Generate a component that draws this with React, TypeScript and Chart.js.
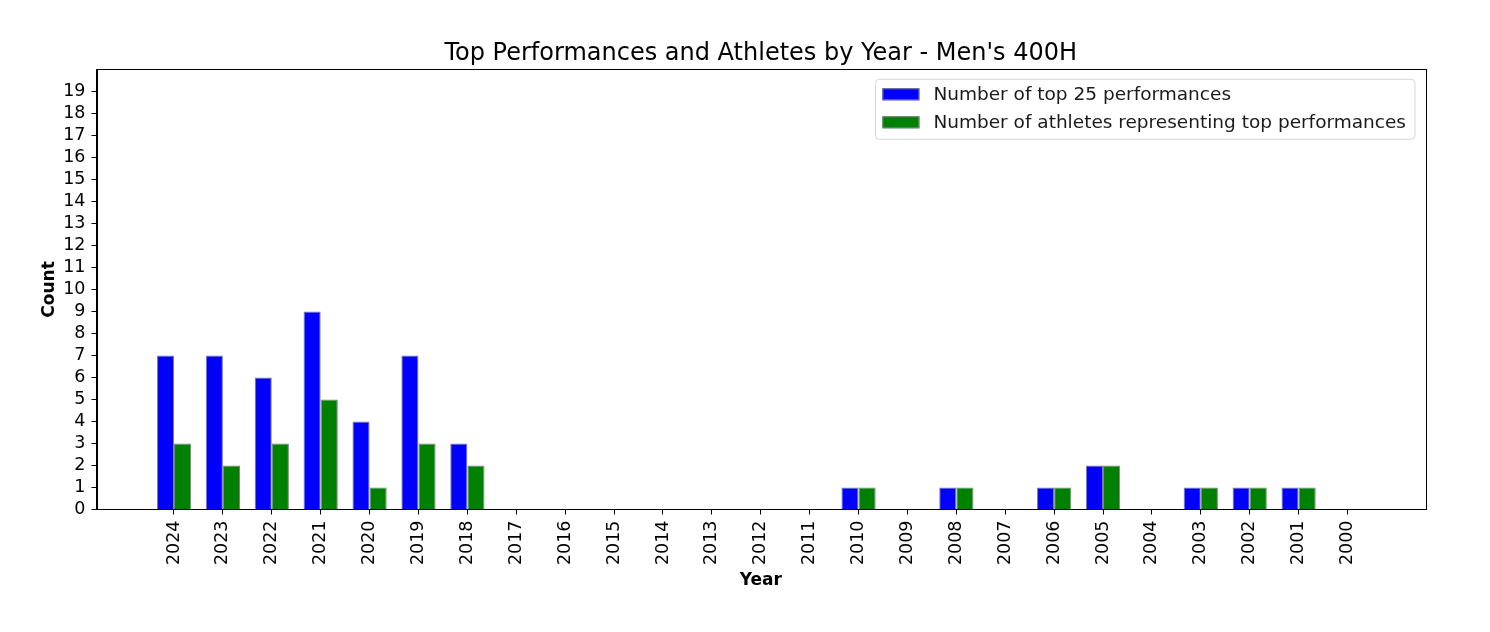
import React, { useEffect, useRef } from "react";
import { Chart, registerables } from "chart.js";

Chart.register(...registerables);

const years = [
  "2024", "2023", "2022", "2021", "2020", "2019", "2018", "2017", "2016", "2015",
  "2014", "2013", "2012", "2011", "2010", "2009", "2008", "2007", "2006", "2005",
  "2004", "2003", "2002", "2001", "2000",
];
const performances = [7, 7, 6, 9, 4, 7, 3, 0, 0, 0, 0, 0, 0, 0, 1, 0, 1, 0, 1, 2, 0, 1, 1, 1, 0];
const athletes = [3, 2, 3, 5, 1, 3, 2, 0, 0, 0, 0, 0, 0, 0, 1, 0, 1, 0, 1, 2, 0, 1, 1, 1, 0];
const yTicks = [0, 1, 2, 3, 4, 5, 6, 7, 8, 9, 10, 11, 12, 13, 14, 15, 16, 17, 18, 19];
const seriesLabels = ["Number of top 25 performances", "Number of athletes representing top performances"];
const seriesColors = ["#0000ff", "#008000"];
const chartTitle = "Top Performances and Athletes by Year - Men's 400H";

const FONT = '"DejaVu Sans", sans-serif';

const framePlugin = {
  id: "frame",
  afterDraw(chart: any) {
    const { ctx, chartArea: a } = chart;
    ctx.save();
    ctx.strokeStyle = "#000";
    ctx.lineWidth = 1;
    ctx.strokeRect(Math.round(a.left) + 0.5, Math.round(a.top) + 0.5, Math.round(a.right - a.left), Math.round(a.bottom - a.top));
    ctx.font = `24px ${FONT}`;
    ctx.fillStyle = "#000";
    ctx.textAlign = "center";
    ctx.textBaseline = "middle";
    ctx.fillText(chartTitle, (a.left + a.right) / 2, a.top - 16);
    ctx.restore();
  },
};

const legendPlugin = {
  id: "customLegend",
  afterDraw(chart: any) {
    const { ctx, chartArea: a } = chart;
    ctx.save();
    ctx.font = `18.5px ${FONT}`;
    const textW = Math.max(...seriesLabels.map((l) => ctx.measureText(l).width));
    const handleW = 37;
    const boxW = 7 + handleW + 14 + textW + 9;
    const boxH = 60;
    const right = a.right - 10;
    const left = right - boxW;
    const top = a.top + 10;
    ctx.beginPath();
    const r = 4;
    ctx.moveTo(left + r, top);
    ctx.lineTo(left + boxW - r, top);
    ctx.quadraticCurveTo(left + boxW, top, left + boxW, top + r);
    ctx.lineTo(left + boxW, top + boxH - r);
    ctx.quadraticCurveTo(left + boxW, top + boxH, left + boxW - r, top + boxH);
    ctx.lineTo(left + r, top + boxH);
    ctx.quadraticCurveTo(left, top + boxH, left, top + boxH - r);
    ctx.lineTo(left, top + r);
    ctx.quadraticCurveTo(left, top, left + r, top);
    ctx.closePath();
    ctx.fillStyle = "rgba(255,255,255,0.8)";
    ctx.fill();
    ctx.strokeStyle = "#d6d6d6";
    ctx.lineWidth = 1;
    ctx.stroke();
    const rows = [15, 43];
    seriesLabels.forEach((label, i) => {
      const cy = top + rows[i];
      ctx.fillStyle = seriesColors[i];
      ctx.fillRect(left + 7, cy - 6, handleW, 12);
      ctx.strokeStyle = "#808080";
      ctx.strokeRect(left + 7 + 0.5, cy - 6 + 0.5, handleW - 1, 11);
      ctx.fillStyle = "#1a1a1a";
      ctx.textBaseline = "middle";
      ctx.textAlign = "left";
      ctx.fillText(label, left + 7 + handleW + 14, cy + 1);
    });
    ctx.restore();
  },
};

export default function App() {
  const ref = useRef<HTMLCanvasElement | null>(null);

  useEffect(() => {
    if (!ref.current) return;
    const chart = new Chart(ref.current, {
      type: "bar",
      data: {
        datasets: [
          {
            label: seriesLabels[0],
            data: performances.map((v, i) => ({ x: i, y: v })),
            backgroundColor: seriesColors[0],
            borderColor: "#808080",
            borderWidth: 1,
          },
          {
            label: seriesLabels[1],
            data: athletes.map((v, i) => ({ x: i, y: v })),
            backgroundColor: seriesColors[1],
            borderColor: "#808080",
            borderWidth: 1,
          },
        ],
      },
      options: {
        animation: false,
        responsive: true,
        maintainAspectRatio: false,
        categoryPercentage: 0.7,
        barPercentage: 1.0,
        layout: { padding: { left: 0, right: 65, top: 69.3, bottom: 0 } },
        plugins: {
          legend: { display: false },
          tooltip: { enabled: false },
          title: { display: false },
        },
        scales: {
          x: {
            type: "linear",
            min: -1.585,
            max: years.length - 1 + 1.585,
            offset: false,
            afterBuildTicks: (scale: any) => {
              scale.ticks = years.map((_, i) => ({ value: i }));
            },
            afterFit: (scale: any) => {
              scale.height = 122.5;
            },
            ticks: {
              autoSkip: false,
              minRotation: 90,
              maxRotation: 90,
              padding: 6,
              color: "#000",
              font: { family: FONT, size: 17.5 },
              callback: (v: any) => years[Number(v)] ?? "",
            },
            grid: {
              offset: false,
              drawOnChartArea: false,
              drawTicks: true,
              tickLength: 5,
              tickColor: "#000",
            },
            border: { display: true, color: "#000", width: 1 },
            title: {
              display: true,
              text: "Year",
              color: "#000",
              font: { family: FONT, size: 17, weight: "bold" },
              padding: { top: 0, bottom: 41.5 },
            },
          },
          y: {
            type: "linear",
            min: 0,
            max: 20,
            afterBuildTicks: (scale: any) => {
              scale.ticks = yTicks.map((v) => ({ value: v }));
            },
            afterFit: (scale: any) => {
              scale.width = 96.5;
            },
            ticks: {
              autoSkip: false,
              padding: 6,
              color: "#000",
              font: { family: FONT, size: 17.5 },
              callback: (v: any) => String(v),
            },
            grid: {
              drawOnChartArea: false,
              drawTicks: true,
              tickLength: 5,
              tickColor: "#000",
            },
            border: { display: true, color: "#000", width: 1 },
            title: {
              display: true,
              text: "Count",
              color: "#000",
              font: { family: FONT, size: 17, weight: "bold" },
              padding: { top: 39, bottom: 0 },
            },
          },
        },
      } as any,
      plugins: [framePlugin, legendPlugin],
    });
    return () => chart.destroy();
  }, []);

  return (
    <div style={{ position: "absolute", left: 0, top: 0, width: 1490, height: 632, background: "#fff" }}>
      <canvas ref={ref} />
    </div>
  );
}
